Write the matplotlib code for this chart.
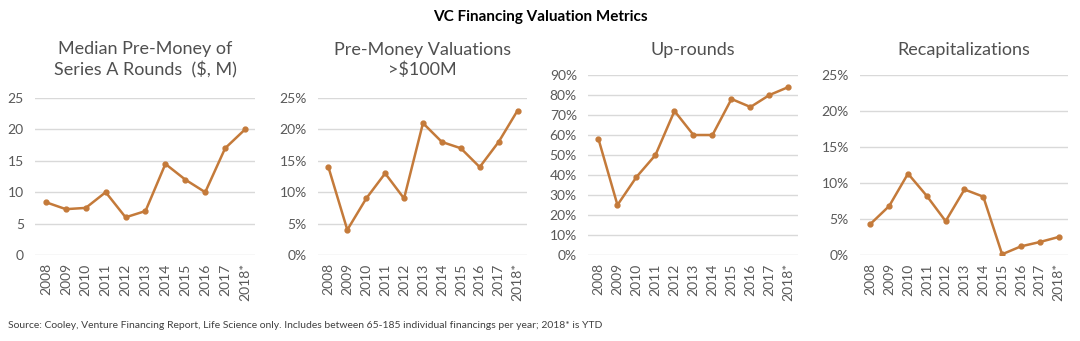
import numpy as np
from matplotlib import pyplot as plt
from matplotlib.ticker import FuncFormatter

years = ["2008", "2009", "2010", "2011", "2012", "2013", "2014", "2015", "2016", "2017", "2018*"]

median_premoney = [8.4, 7.3, 7.5, 10.0, 6.0, 7.0, 14.5, 12.0, 10.0, 17.0, 20.0]
premoney_over_100m = [14, 4, 9, 13, 9, 21, 18, 17, 14, 18, 23]
up_rounds = [58, 25, 39, 50, 72, 60, 60, 78, 74, 80, 84]
recaps = [4.3, 6.8, 11.3, 8.2, 4.7, 9.1, 8.1, 0.1, 1.2, 1.8, 2.5]

titles = ["Median Pre-Money of\nSeries A Rounds  ($, M)", "Pre-Money Valuations\n>$100M",
          "Up-rounds", "Recapitalizations"]

plt.rcParams['font.family'] = ['Lato', 'DejaVu Sans']

LINE = '#C47A3A'
GREY = '#595959'
W, H = 1080, 341

fig = plt.figure(figsize=(W / 100, H / 100), dpi=100)

# axes boxes in pixels: left, right, top (of ymax), bottom
boxes = [(35, 255, 98, 255), (318, 527, 98, 255), (588, 798, 75, 255), (860, 1068, 75, 255)]
series = [median_premoney, premoney_over_100m, up_rounds, recaps]
ymax = [25, 25, 90, 25]
ystep = [5, 5, 10, 5]
pct = [False, True, True, True]
title_y = [60, 60, 50, 50]

x = np.arange(len(years))
for i in range(4):
    l, r, t, b = boxes[i]
    ax = fig.add_axes([l / W, 1 - b / H, (r - l) / W, (b - t) / H])
    ax.plot(x, series[i], color=LINE, lw=1.8, marker='o', ms=3.5)
    ax.set_ylim(0, ymax[i])
    ax.set_xlim(-0.55, 10.5)
    ax.set_yticks(np.arange(0, ymax[i] + 1, ystep[i]))
    if pct[i]:
        ax.yaxis.set_major_formatter(FuncFormatter(lambda v, p: f"{v:.0f}%"))
    ax.set_xticks(x)
    ax.set_xticklabels(years, rotation=90)
    ax.grid(axis='y', color='#D9D9D9', lw=1)
    ax.set_axisbelow(True)
    for s in ax.spines.values():
        s.set_visible(False)
    ax.tick_params(length=0, colors=GREY, labelsize=10)
    ax.tick_params(axis='y', pad=8)
    ax.tick_params(axis='x', pad=6)
    fig.text((l + r) / 2 / W, 1 - title_y[i] / H, titles[i], ha='center', va='center',
             fontsize=13, color='#505050', linespacing=1.3)

fig.text(0.5, 1 - 17 / H, "VC Financing Valuation Metrics", ha='center', va='center',
         fontsize=11, fontweight='bold', color='black')
fig.text(8 / W, 1 - 326 / H,
         "Source: Cooley, Venture Financing Report, Life Science only. Includes between 65-185 individual financings per year; 2018* is YTD",
         ha='left', va='center', fontsize=7.5, color='#404040')

fig.savefig("out.png", dpi=100)
